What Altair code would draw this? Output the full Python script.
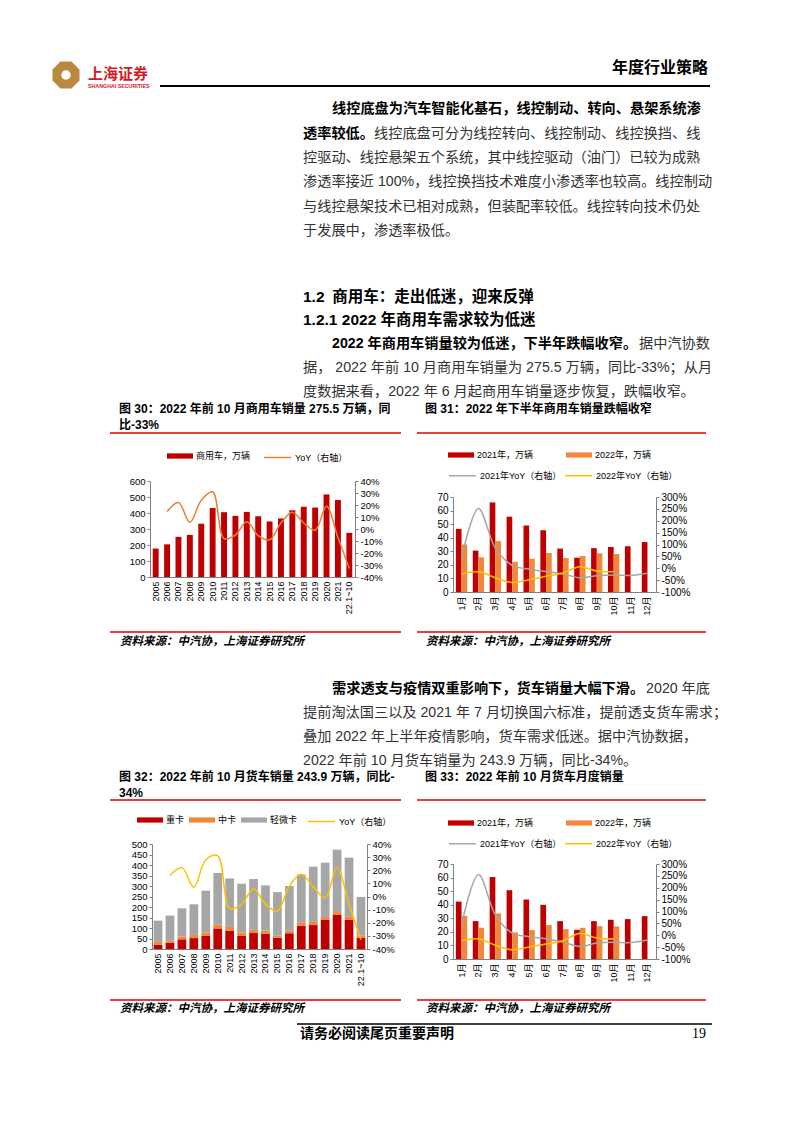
import altair as alt
import pandas as pd

# ------------------------------------------------------------------ data
years = ["2005", "2006", "2007", "2008", "2009", "2010", "2011", "2012", "2013",
         "2014", "2015", "2016", "2017", "2018", "2019", "2020", "2021", "22.1~10"]
cv_sales = [178, 204, 251, 263, 333, 431, 405, 382, 407, 380, 347, 366, 417, 439, 434, 516, 481, 276]
cv_yoy = [None, 0.145, 0.22, 0.055, 0.24, 0.31, -0.08, -0.05, 0.06, -0.055, -0.09, 0.05,
          0.14, 0.05, -0.01, 0.19, -0.07, -0.33]

months = ["1月", "2月", "3月", "4月", "5月", "6月", "7月", "8月", "9月", "10月", "11月", "12月"]
cv_2021 = [46.5, 30.5, 66, 55.5, 49, 45.5, 32, 25.3, 32.3, 33.2, 33.7, 36.8]
cv_2022 = [35, 25.6, 37.5, 22.2, 24.5, 28.7, 25, 26.5, 28.5, 28]
cv_yoy_2021 = [0.43, 2.52, 0.85, 0.12, -0.04, -0.14, -0.24, -0.40, -0.32, -0.28, -0.30, -0.21]
cv_yoy_2022 = [-0.25, -0.15, -0.40, -0.60, -0.48, -0.34, -0.20, 0.06, -0.12, -0.15]

heavy_trucks = [20, 30, 46, 52, 62, 98, 86, 62, 76, 73, 54, 75, 110, 114, 138, 162, 138, 54]
medium_trucks = [13, 11, 13, 15, 17, 19, 19, 17, 16, 14, 9, 12, 17, 15, 14, 14, 18, 9]
light_trucks = [102, 118, 135, 146, 199, 245, 231, 232, 241, 216, 208, 213, 228, 263, 259, 297, 279, 185]
truck_yoy = [None, 0.16, 0.22, 0.07, 0.28, 0.31, -0.09, -0.06, 0.06, -0.06, -0.11, 0.08,
             0.17, 0.075, -0.01, 0.22, -0.06, -0.33]

tr_2021 = [42.3, 27.9, 60.4, 50.7, 43.8, 39.9, 27.9, 21.5, 27.9, 28.9, 29.4, 31.6]
tr_2022 = [31.8, 23, 33.5, 19.6, 21.3, 25, 22, 23, 24.2, 24]
tr_yoy_2021 = [0.44, 2.56, 0.86, 0.09, -0.06, -0.15, -0.29, -0.47, -0.33, -0.29, -0.31, -0.20]
tr_yoy_2022 = [-0.23, -0.15, -0.42, -0.61, -0.49, -0.37, -0.23, 0.07, -0.12, -0.16]

# ------------------------------------------------------------------ styles
NUM = "Liberation Sans"
MIX = "Liberation Sans, Noto Sans CJK SC"
RED = "#C00000"
ORANGE = "#F0883A"
GRAY = "#A6A6A6"
YELLOW = "#FFC000"
LINE_OR = "#ED7D31"
AX = "#808080"
BAR_SYM = "M-1,-0.2H1V0.2H-1Z"
PCT = "round(datum.value*100) + '%'"
PAGE_W, PAGE_H = 794, 1123


def y_axis(values, fs, orient, pos, pct=False):
    # offset moves the axis from the page edge to the plot-area edge
    off = -pos if orient == "left" else pos - PAGE_W
    kw = dict(title=None, values=values, orient=orient, offset=off, grid=False, labelFont=NUM,
              labelFontSize=fs, labelColor="#000000", domainColor=AX, tickColor=AX,
              tickSize=3, labelPadding=2, labelOverlap=False)
    if pct:
        kw["labelExpr"] = PCT
    return alt.Axis(**kw)


def x_axis(fs, pos):
    return alt.Axis(title=None, orient="bottom", offset=pos - PAGE_H, labelAngle=-90, labelFont=MIX,
                    labelFontSize=fs, labelColor="#000000", ticks=False, domainColor=AX,
                    labelPadding=4, labelOverlap=False)


def bar_legend(x, y, pad):
    return alt.Legend(orient="none", legendX=x, legendY=y, title=None, direction="horizontal",
                      symbolType=BAR_SYM, symbolSize=676, symbolStrokeWidth=0,
                      labelFont=MIX, labelFontSize=9, labelColor="#000000", labelOffset=3,
                      columnPadding=pad, padding=0)


def line_legend(x, y, pad):
    return alt.Legend(orient="none", legendX=x, legendY=y, title=None, direction="horizontal",
                      symbolType="stroke", symbolSize=729, symbolStrokeWidth=1.5,
                      labelFont=MIX, labelFontSize=9, labelColor="#000000", labelOffset=3,
                      columnPadding=pad, padding=0)


# plot-area boxes on the page: (left, right, top, bottom)
BOX30 = (150, 355, 481, 577)
BOX31 = (453, 656, 497, 592)
BOX32 = (152, 367, 844, 949)
BOX33 = (453, 656, 864, 959)

# ------------------------------------------------------------------ chart 30
df30 = pd.DataFrame({"year": years, "sales": cv_sales, "yoy": cv_yoy})
df30["s"] = "商用车，万辆"
df30["l"] = "YoY（右轴）"
L, R, T, B = BOX30
x30 = alt.X("year:N", sort=years,
            scale=alt.Scale(range=[L, R], paddingInner=0.48, paddingOuter=0.24),
            axis=x_axis(9, B))
b30 = alt.Chart(df30).mark_bar().encode(
    x=x30,
    y=alt.Y("sales:Q", scale=alt.Scale(domain=[0, 600], nice=False, range=[B, T]),
            axis=y_axis(list(range(0, 601, 100)), 9.5, "left", L)),
    color=alt.Color("s:N", scale=alt.Scale(range=[RED]), legend=bar_legend(167, 443, 10)),
)
l30 = alt.Chart(df30).transform_filter("isValid(datum.yoy)").mark_line(
    interpolate="catmull-rom", strokeWidth=1.5).encode(
    x=x30,
    y=alt.Y("yoy:Q", scale=alt.Scale(domain=[-0.4, 0.4], nice=False, range=[B, T]),
            axis=y_axis([i / 10 for i in range(-4, 5)], 9.5, "right", R, True)),
    stroke=alt.Stroke("l:N", scale=alt.Scale(range=[LINE_OR]), legend=line_legend(263, 443, 10)),
)
ch30 = alt.layer(b30, l30).resolve_scale(y="independent")


# ------------------------------------------------------------------ monthly charts
def monthly_chart(v21, v22, y21, y22, box, leg_y1, leg_y2):
    L, R, T, B = box
    s_bar = ["2021年，万辆", "2022年，万辆"]
    s_line = ["2021年YoY（右轴）", "2022年YoY（右轴）"]
    brow, lrow = [], []
    for i, m in enumerate(months):
        brow.append({"month": m, "series": s_bar[0], "v": v21[i]})
        lrow.append({"month": m, "series": s_line[0], "v": y21[i]})
        if i < len(v22):
            brow.append({"month": m, "series": s_bar[1], "v": v22[i]})
        if i < len(y22):
            lrow.append({"month": m, "series": s_line[1], "v": y22[i]})
    x = alt.X("month:N", sort=months,
              scale=alt.Scale(range=[L, R], paddingInner=0.33, paddingOuter=0.17),
              axis=x_axis(9, B))
    bars = alt.Chart(pd.DataFrame(brow)).mark_bar().encode(
        x=x,
        xOffset=alt.XOffset("series:N", sort=s_bar),
        y=alt.Y("v:Q", scale=alt.Scale(domain=[0, 70], nice=False, range=[B, T]),
                axis=y_axis(list(range(0, 71, 10)), 10, "left", L)),
        color=alt.Color("series:N", scale=alt.Scale(domain=s_bar, range=[RED, ORANGE]),
                        legend=bar_legend(448, leg_y1, 32)),
    )
    lines = alt.Chart(pd.DataFrame(lrow)).mark_line(interpolate="catmull-rom", strokeWidth=1.5).encode(
        x=x,
        y=alt.Y("v:Q", scale=alt.Scale(domain=[-1, 3], nice=False, range=[B, T]),
                axis=y_axis([i / 2 for i in range(-2, 7)], 10, "right", R, True)),
        stroke=alt.Stroke("series:N", scale=alt.Scale(domain=s_line, range=[GRAY, YELLOW]),
                          legend=line_legend(448, leg_y2, 0)),
    )
    return alt.layer(bars, lines).resolve_scale(y="independent")


ch31 = monthly_chart(cv_2021, cv_2022, cv_yoy_2021, cv_yoy_2022, BOX31, 442, 461)
ch33 = monthly_chart(tr_2021, tr_2022, tr_yoy_2021, tr_yoy_2022, BOX33, 810, 829)

# ------------------------------------------------------------------ chart 32
types = ["重卡", "中卡", "轻微卡"]
rows32 = []
for i, yv in enumerate(years):
    for k, arr in enumerate([heavy_trucks, medium_trucks, light_trucks]):
        rows32.append({"year": yv, "type": types[k], "v": arr[i], "o": k})
df32 = pd.DataFrame(rows32)
df32l = pd.DataFrame({"year": years, "yoy": truck_yoy})
df32l["l"] = "YoY（右轴）"
L, R, T, B = BOX32
x32 = alt.X("year:N", sort=years,
            scale=alt.Scale(range=[L, R], paddingInner=0.27, paddingOuter=0.14),
            axis=x_axis(9, B))
b32 = alt.Chart(df32).mark_bar().encode(
    x=x32,
    y=alt.Y("v:Q", stack="zero", scale=alt.Scale(domain=[0, 500], nice=False, range=[B, T]),
            axis=y_axis(list(range(0, 501, 50)), 9.5, "left", L)),
    color=alt.Color("type:N", scale=alt.Scale(domain=types, range=[RED, ORANGE, GRAY]),
                    legend=bar_legend(137, 807, 4)),
    order=alt.Order("o:Q"),
)
l32 = alt.Chart(df32l).transform_filter("isValid(datum.yoy)").mark_line(
    interpolate="catmull-rom", strokeWidth=1.5).encode(
    x=x32,
    y=alt.Y("yoy:Q", scale=alt.Scale(domain=[-0.4, 0.4], nice=False, range=[B, T]),
            axis=y_axis([i / 10 for i in range(-4, 5)], 9.5, "right", R, True)),
    stroke=alt.Stroke("l:N", scale=alt.Scale(range=[YELLOW]), legend=line_legend(307, 807, 10)),
)
ch32 = alt.layer(b32, l32).resolve_scale(y="independent")

# ------------------------------------------------------------------ page text (layout)
TXT = {
    "body": dict(font=MIX, fontSize=14.2, color="#333333"),
    "bodyr": dict(font=MIX, fontSize=14.2, color="#333333", align="right"),
    "bodyb": dict(font=MIX, fontSize=14.2, color="#000000", fontWeight="bold"),
    "h": dict(font=MIX, fontSize=15.5, color="#000000", fontWeight="bold"),
    "cap": dict(font=MIX, fontSize=12, color="#000000", fontWeight="bold"),
    "src": dict(font=MIX, fontSize=11.5, color="#000000", fontWeight="bold", fontStyle="italic"),
    "foot": dict(font=MIX, fontSize=14, color="#000000", fontWeight="bold"),
    "pnum": dict(font="Liberation Serif", fontSize=14, color="#000000", align="right"),
    "brand": dict(font="Noto Sans CJK SC", fontSize=15, color="#D7191F", fontWeight="bold"),
    "brand_en": dict(font=NUM, fontSize=5.3, color="#D7191F", fontWeight="bold"),
    "hdr": dict(font="Noto Sans CJK SC", fontSize=16, color="#000000", fontWeight="bold", align="right"),
}
SRC = "资料来源：中汽协，上海证券研究所"
texts = [
    ("brand", 88, 74, "上海证券"),
    ("brand_en", 88, 86, "SHANGHAI SECURITIES"),
    ("hdr", 708, 68, "年度行业策略"),
    ("bodyb", 332, 109, "线控底盘为汽车智能化基石，线控制动、转向、悬架系统渗"),
    ("bodyb", 303, 133.5, "透率较低。"),
    ("body", 374, 133.5, "线控底盘可分为线控转向、线控制动、线控换挡、线"),
    ("body", 303, 158, "控驱动、线控悬架五个系统，其中线控驱动（油门）已较为成熟"),
    ("body", 303, 182, "渗透率接近 100%，线控换挡技术难度小渗透率也较高。线控制动"),
    ("body", 303, 206.5, "与线控悬架技术已相对成熟，但装配率较低。线控转向技术仍处"),
    ("body", 303, 231, "于发展中，渗透率极低。"),
    ("h", 303, 297, "1.2\u2002商用车：走出低迷，迎来反弹"),
    ("h", 303, 320, "1.2.1 2022 年商用车需求较为低迷"),
    ("bodyb", 332, 344, "2022 年商用车销量较为低迷，下半年跌幅收窄。"),
    ("bodyr", 710, 344, "据中汽协数"),
    ("body", 303, 368, "据， 2022 年前 10 月商用车销量为 275.5 万辆，同比-33%；从月"),
    ("body", 303, 392, "度数据来看，2022 年 6 月起商用车销量逐步恢复，跌幅收窄。"),
    ("cap", 119, 409, "图 30：2022 年前 10 月商用车销量 275.5 万辆，同"),
    ("cap", 119, 425, "比-33%"),
    ("cap", 425, 409, "图 31：2022 年下半年商用车销量跌幅收窄"),
    ("src", 120, 642, SRC),
    ("src", 426, 642, SRC),
    ("bodyb", 332, 689, "需求透支与疫情双重影响下，货车销量大幅下滑。"),
    ("bodyr", 710, 689, "2020 年底"),
    ("body", 303, 712.5, "提前淘汰国三以及 2021 年 7 月切换国六标准，提前透支货车需求；"),
    ("body", 303, 736.5, "叠加 2022 年上半年疫情影响，货车需求低迷。据中汽协数据，"),
    ("body", 303, 760.5, "2022 年前 10 月货车销量为 243.9 万辆，同比-34%。"),
    ("cap", 119, 777, "图 32：2022 年前 10 月货车销量 243.9 万辆，同比-"),
    ("cap", 119, 793, "34%"),
    ("cap", 425, 777, "图 33：2022 年前 10 月货车月度销量"),
    ("src", 120, 1009, SRC),
    ("src", 426, 1009, SRC),
    ("foot", 300, 1034, "请务必阅读尾页重要声明"),
    ("pnum", 706, 1034, "19"),
]
RRED = "#E00000"
rules = [
    (160, 710, 86, "#000000", 2.2),
    (110, 401, 433, RRED, 1.3), (417, 706, 433, RRED, 1.3),
    (110, 401, 632, RRED, 1.3), (417, 706, 632, RRED, 1.3),
    (110, 401, 800, RRED, 1.3), (417, 706, 800, RRED, 1.3),
    (110, 401, 1000, RRED, 1.3), (417, 706, 1000, RRED, 1.3),
    (297, 712, 1024, "#000000", 1.5),
]
OCT = "M-0.41,-1L0.41,-1L1,-0.41L1,0.41L0.41,1L-0.41,1L-1,0.41L-1,-0.41Z"
logo = [(66, 75, OCT, 729, "#B8893E"), (66, 75, "circle", 90, "#FFFFFF")]

PX = dict(scale=None, axis=None)

page_layers = []
for st, kw in TXT.items():
    sub = [t for t in texts if t[0] == st]
    if not sub:
        continue
    df = pd.DataFrame({"x": [t[1] for t in sub], "y": [t[2] for t in sub],
                       "t": [t[3] for t in sub]})
    kw2 = dict(kw)
    align = kw2.pop("align", "left")
    page_layers.append(alt.Chart(df).mark_text(align=align, baseline="middle", **kw2).encode(
        x=alt.X("x:Q", **PX), y=alt.Y("y:Q", **PX), text="t:N"))

df_rules = pd.DataFrame({"x1": [r[0] for r in rules], "x2": [r[1] for r in rules],
                         "y": [r[2] for r in rules], "c": [r[3] for r in rules],
                         "w": [r[4] for r in rules]})
page_layers.append(alt.Chart(df_rules).mark_rule().encode(
    x=alt.X("x1:Q", **PX), x2="x2:Q", y=alt.Y("y:Q", **PX),
    color=alt.Color("c:N", scale=None), strokeWidth=alt.StrokeWidth("w:Q", scale=None)))

for (lx, ly, shp, size, col) in logo:
    df = pd.DataFrame({"x": [lx], "y": [ly]})
    page_layers.append(alt.Chart(df).mark_point(shape=shp, size=size, filled=True,
                                                color=col, opacity=1).encode(
        x=alt.X("x:Q", **PX), y=alt.Y("y:Q", **PX)))

chart = alt.layer(*page_layers, ch30, ch31, ch32, ch33).resolve_scale(
    x="independent", y="independent", color="independent", stroke="independent",
    xOffset="independent"
).properties(
    width=PAGE_W, height=PAGE_H, padding=0, background="#FFFFFF",
    autosize=alt.AutoSizeParams(type="none")
).configure_view(strokeWidth=0)

chart.save("out.html", embed_options={"renderer": "svg", "actions": False})
